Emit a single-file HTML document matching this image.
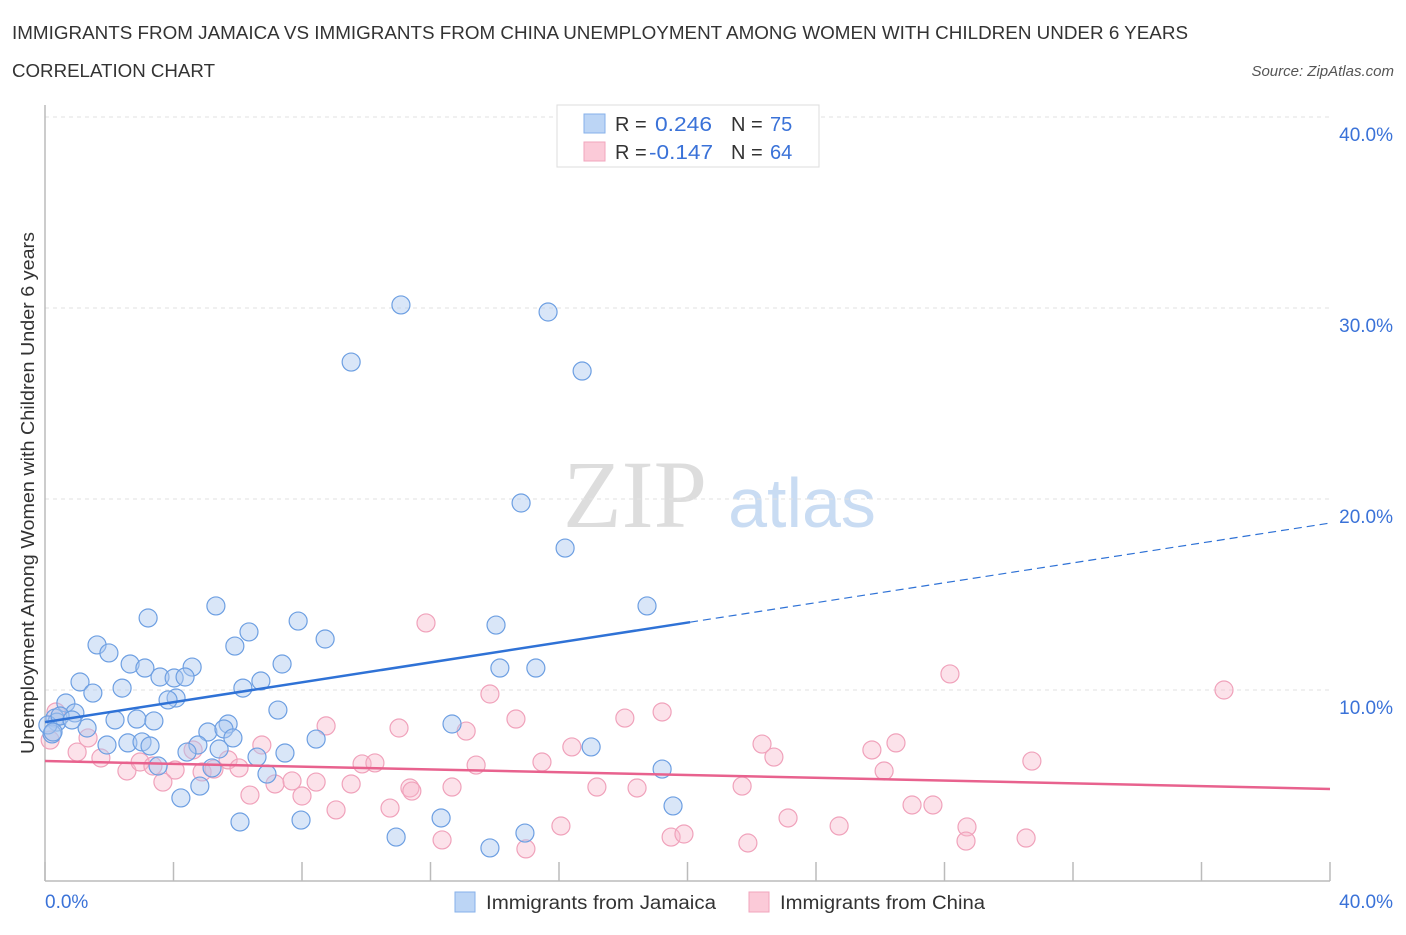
<!DOCTYPE html>
<html><head><meta charset="utf-8"><style>
body{margin:0;background:#fff;font-family:"Liberation Sans",sans-serif;}
svg text{font-family:"Liberation Sans",sans-serif;}
</style></head><body>
<svg id="chart" width="1406" height="930">
<text x="12" y="39" font-size="18" fill="#333" textLength="1176" lengthAdjust="spacingAndGlyphs">IMMIGRANTS FROM JAMAICA VS IMMIGRANTS FROM CHINA UNEMPLOYMENT AMONG WOMEN WITH CHILDREN UNDER 6 YEARS</text>
<text x="12" y="77" font-size="18" fill="#333" textLength="203" lengthAdjust="spacingAndGlyphs">CORRELATION CHART</text>
<text x="1394" y="76" font-size="15" fill="#555" font-style="italic" text-anchor="end">Source: ZipAtlas.com</text>
<text x="635" y="527" font-size="96" fill="#ddd" text-anchor="middle" style="font-family:'Liberation Serif',serif">ZIP</text>
<text x="802" y="527" font-size="70" fill="#c9dcf3" text-anchor="middle">atlas</text>
<g id="grid"></g>
<g id="axes"></g>
<g id="points"></g>
<g id="trends"></g>
<text transform="translate(34,493) rotate(-90)" font-size="18" fill="#333" text-anchor="middle" textLength="522" lengthAdjust="spacingAndGlyphs">Unemployment Among Women with Children Under 6 years</text>
<g>
<rect x="557" y="105" width="262" height="62" fill="#fff" stroke="#ddd"/>
<rect x="584" y="114" width="21" height="19" fill="#bcd5f5" stroke="#86b0ea"/>
<rect x="584" y="142" width="21" height="19" fill="#fbcad8" stroke="#f2a5bd"/>
<text x="615" y="131" font-size="20" fill="#333">R = </text>
<text x="655" y="131" font-size="20" fill="#3a72d8" textLength="57" lengthAdjust="spacingAndGlyphs">0.246</text>
<text x="731" y="131" font-size="20" fill="#333">N = </text>
<text x="770" y="131" font-size="20" fill="#3a72d8">75</text>
<text x="615" y="159" font-size="20" fill="#333">R = </text>
<text x="649" y="159" font-size="20" fill="#3a72d8" textLength="64" lengthAdjust="spacingAndGlyphs">-0.147</text>
<text x="731" y="159" font-size="20" fill="#333">N = </text>
<text x="770" y="159" font-size="20" fill="#3a72d8">64</text>
</g>
<g>
<rect x="455" y="892" width="20" height="20" fill="#bcd5f5" stroke="#86b0ea"/>
<text x="486" y="909" font-size="19" fill="#333" textLength="230" lengthAdjust="spacingAndGlyphs">Immigrants from Jamaica</text>
<rect x="749" y="892" width="20" height="20" fill="#fbcad8" stroke="#f2a5bd"/>
<text x="780" y="909" font-size="19" fill="#333" textLength="205" lengthAdjust="spacingAndGlyphs">Immigrants from China</text>
</g>
</svg>
<script>
const jamaicaX=[11.08,15.66,9.53,16.72,14.82,16.19,18.74,5.32,3.21,7.88,6.35,8.72,14.04,1.62,5.91,1.99,2.65,3.11,4.58,7.38,3.58,4.02,4.36,1.09,6.72,2.40,6.16,1.49,4.08,3.83,0.65,7.25,0.93,0.31,0.37,2.86,2.18,3.39,12.67,14.16,15.28,1.31,5.07,5.70,5.57,5.85,8.44,2.58,1.93,3.02,0.22,4.76,4.42,5.42,7.47,6.60,3.52,5.20,17.00,19.21,6.91,4.82,4.23,19.55,12.33,6.07,7.97,14.94,10.93,13.85,0.09,0.47,0.25,0.84,3.27];
const jamaicaY=[30.16,29.79,27.17,26.70,19.79,17.43,14.40,14.40,13.77,13.61,13.04,12.67,13.40,12.36,12.30,11.94,11.36,11.15,11.20,11.36,10.68,10.63,10.68,10.42,10.47,10.10,10.10,9.84,9.58,9.48,9.32,8.95,8.80,8.53,8.32,8.48,8.43,8.38,8.22,11.15,11.15,8.01,7.80,8.22,7.96,7.49,7.43,7.23,7.12,7.28,7.70,7.12,6.75,6.91,6.70,6.49,6.02,5.92,7.02,5.86,5.60,4.97,4.35,3.93,3.30,3.09,3.19,2.51,2.30,1.73,8.17,8.64,7.80,8.43,7.07];
const chinaX=[11.86,28.17,36.70,13.85,19.21,18.05,14.66,8.75,11.02,13.11,0.34,0.16,1.34,1.00,1.74,2.55,2.96,3.36,4.05,4.61,4.89,5.26,5.70,6.04,6.75,3.67,7.16,7.69,8.44,9.53,9.87,10.27,13.42,15.47,16.40,22.32,22.69,25.74,26.49,26.12,30.72,11.36,12.67,17.18,18.43,21.70,8.00,6.38,9.06,10.74,11.42,26.99,27.64,23.13,24.72,28.70,16.06,12.36,14.97,19.49,19.89,21.88,28.67,30.54];
const chinaY=[13.51,10.84,10.00,9.79,8.85,8.53,8.48,8.12,8.01,7.85,8.85,7.38,7.49,6.75,6.44,5.76,6.23,6.02,5.81,6.86,5.71,5.86,6.34,5.92,7.12,5.18,5.08,5.24,5.18,5.08,6.13,6.18,6.07,6.23,7.02,7.17,6.49,6.86,7.23,5.76,6.28,4.87,4.92,4.92,4.87,4.97,4.45,4.50,3.72,3.82,4.71,3.98,3.98,3.30,2.88,2.83,2.88,2.15,1.68,2.30,2.46,1.99,2.09,2.25];
const yTicks=[10,20,30,40];
const yTickLabels=["10.0%","20.0%","30.0%","40.0%"];
const xTicks=[0,4,8,12,16,20,24,28,32,36,40];
const jamaicaTrend=[8.32,18.74,20.08];
const chinaTrend=[6.28,4.82];
const X=v=>45+v*32.125, Y=v=>881-v*19.1;
const NS="http://www.w3.org/2000/svg";
function mk(tag,attrs,parent){const e=document.createElementNS(NS,tag);for(const k in attrs)e.setAttribute(k,attrs[k]);parent.appendChild(e);return e;}
const grid=document.getElementById('grid'),axes=document.getElementById('axes'),pts=document.getElementById('points'),tr=document.getElementById('trends');
yTicks.forEach((t,i)=>{
 const l=mk('line',{x1:45,x2:1330,y1:Y(t),y2:Y(t),stroke:'#e2e2e2','stroke-dasharray':'4,4'},grid);
 
 
 const tx=mk('text',{x:1393,y:Y(t)+24,'font-size':19,fill:'#3a72d8','text-anchor':'end'},axes);
 tx.textContent=yTickLabels[i];
 
 
});
const ya=mk('line',{x1:45,x2:45,y1:105,y2:881,stroke:'#bbb','stroke-width':1.5},axes);


const xa=mk('line',{x1:45,x2:1330,y1:881,y2:881,stroke:'#bbb','stroke-width':1.5},axes);


xTicks.forEach(t=>{
 const l=mk('line',{x1:X(t),x2:X(t),y1:862,y2:881,stroke:'#bbb','stroke-width':1.5},axes);
 
 
});
const x0=mk('text',{x:45,y:908,'font-size':19,fill:'#3a72d8'},axes);x0.textContent='0.0%';


const x1=mk('text',{x:1393,y:908,'font-size':19,fill:'#3a72d8','text-anchor':'end'},axes);x1.textContent='40.0%';


chinaX.forEach((x,i)=>{
 const c=mk('circle',{cx:X(x),cy:Y(chinaY[i]),r:9,fill:'rgba(248,182,202,0.4)',stroke:'#f0a2bb','stroke-width':1.2},pts);
 
 
});
jamaicaX.forEach((x,i)=>{
 const c=mk('circle',{cx:X(x),cy:Y(jamaicaY[i]),r:9,fill:'rgba(170,200,240,0.45)',stroke:'#6d9fe2','stroke-width':1.2},pts);
 
 
});
const jy=x=>jamaicaTrend[0]+(jamaicaTrend[1]-jamaicaTrend[0])*x/40;
const js=mk('line',{x1:X(0),y1:Y(jy(0)),x2:X(jamaicaTrend[2]),y2:Y(jy(jamaicaTrend[2])),stroke:'#2f72d6','stroke-width':2.5},tr);


const jd=mk('line',{x1:X(jamaicaTrend[2]),y1:Y(jy(jamaicaTrend[2])),x2:X(40),y2:Y(jy(40)),stroke:'#2f72d6','stroke-width':1.2,'stroke-dasharray':'8,5'},tr);


const cl=mk('line',{x1:X(0),y1:Y(chinaTrend[0]),x2:X(40),y2:Y(chinaTrend[1]),stroke:'#e8628e','stroke-width':2.5},tr);


</script>
</body></html>
